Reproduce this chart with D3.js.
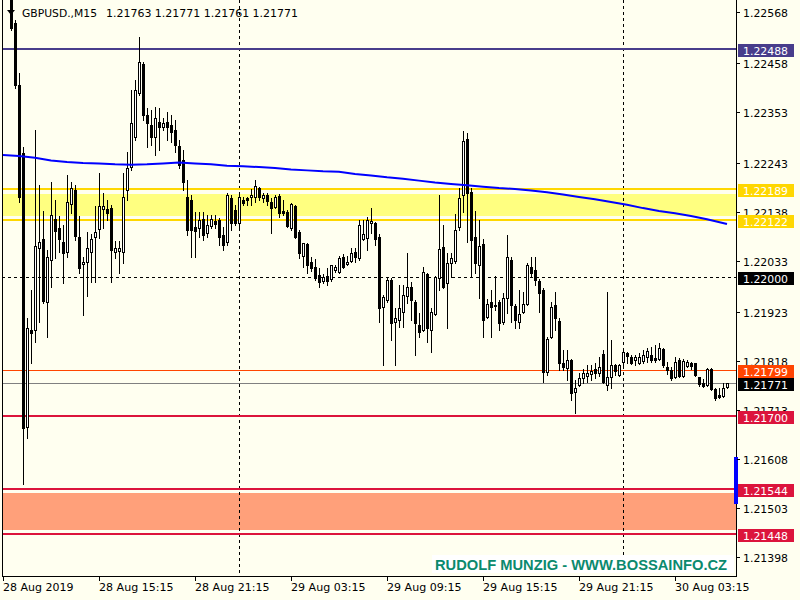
<!DOCTYPE html>
<html><head><meta charset="utf-8">
<script src="https://cdn.jsdelivr.net/npm/d3@7"></script>
<style>
body{margin:0;background:#FFFFF0}
svg{display:block}
text{font-family:"DejaVu Sans";font-size:11px;fill:#000}
</style></head>
<body><svg id="c" width="800" height="600"></svg>
<script>
// ---- DATA (GBPUSD M15, 28 Aug 2019 09:15 ...) ----
const symbolTitle = "GBPUSD.,M15";
const lastOHLC = "1.21763 1.21771 1.21761 1.21771";
const open = [
1.22700,1.22660,1.22625,1.22545,1.22411,1.22266,1.21677,1.21885,1.21885,1.22062,
1.22081,1.21946,1.22036,1.22124,1.22105,1.22075,1.22053,1.22156,1.22186,1.22085,
1.22027,1.22032,1.22053,1.22085,1.22103,1.22146,1.22146,1.22148,1.22053,1.22055,
1.22053,1.22186,1.22235,1.22300,1.22395,1.22456,1.22347,1.22325,1.22300,1.22332,
1.22321,1.22332,1.22325,1.22315,1.22280,1.22250,1.22171,1.22165,1.22107,1.22105,
1.22124,1.22094,1.22109,1.22120,1.22122,1.22089,1.22075,1.22169,1.22143,1.22116,
1.22165,1.22169,1.22171,1.22171,1.22191,1.22169,1.22175,1.22161,1.22150,1.22173,
1.22141,1.22139,1.22105,1.22152,1.22096,1.22044,1.22070,1.22032,1.22021,1.22003,
1.21991,1.22001,1.21995,1.22014,1.22010,1.22042,1.22027,1.22034,1.22053,1.22040,
1.22081,1.22083,1.22116,1.22116,1.22085,1.21935,1.21950,1.21993,1.21903,1.21907,
1.21924,1.21958,1.21978,1.21946,1.21896,1.21885,1.22005,1.21885,1.21920,1.21997,
1.22064,1.21987,1.22030,1.22034,1.22107,1.22175,1.22296,1.22182,1.22085,1.22025,
1.22070,1.21913,1.21946,1.21937,1.21946,1.21903,1.21954,1.22036,1.21937,1.21903,
1.21924,1.21941,1.22021,1.22014,1.21991,1.21971,1.21796,1.21870,1.21939,1.21905,
1.21815,1.21804,1.21821,1.21753,1.21767,1.21783,1.21787,1.21791,1.21802,1.21794,
1.21834,1.21767,1.21785,1.21810,1.21789,1.21817,1.21837,1.21828,1.21821,1.21815,
1.21819,1.21828,1.21832,1.21826,1.21823,1.21845,1.21806,1.21800,1.21785,1.21821,
1.21787,1.21808,1.21815,1.21815,1.21785,1.21772,1.21767,1.21802,1.21759,1.21746,
1.21744,1.21763];
const high = [
1.22720,1.22690,1.22640,1.22551,1.22438,1.22278,1.21911,1.21971,1.22315,1.22197,
1.22141,1.22057,1.22204,1.22165,1.22130,1.22111,1.22218,1.22204,1.22197,1.22130,
1.22042,1.22096,1.22091,1.22152,1.22223,1.22180,1.22165,1.22154,1.22077,1.22077,
1.22223,1.22268,1.22401,1.22422,1.22515,1.22461,1.22362,1.22358,1.22364,1.22362,
1.22341,1.22354,1.22347,1.22336,1.22293,1.22272,1.22208,1.22175,1.22139,1.22139,
1.22139,1.22132,1.22132,1.22132,1.22126,1.22107,1.22180,1.22175,1.22154,1.22175,
1.22171,1.22171,1.22189,1.22208,1.22193,1.22180,1.22180,1.22169,1.22175,1.22178,
1.22165,1.22143,1.22159,1.22154,1.22100,1.22073,1.22073,1.22042,1.22038,1.22019,
1.22005,1.22019,1.22025,1.22025,1.22044,1.22049,1.22044,1.22062,1.22062,1.22122,
1.22122,1.22128,1.22148,1.22118,1.22091,1.21960,1.21999,1.21997,1.21933,1.21982,
1.21982,1.22051,1.21989,1.21950,1.21922,1.22021,1.22008,1.21933,1.22001,1.22175,
1.22111,1.22051,1.22051,1.22134,1.22191,1.22313,1.22309,1.22191,1.22141,1.22122,
1.22081,1.21952,1.21971,1.22001,1.21950,1.21965,1.22089,1.22042,1.21941,1.21971,
1.21967,1.22030,1.22042,1.22042,1.21995,1.21976,1.21870,1.21946,1.21967,1.21911,
1.21843,1.21843,1.21823,1.21778,1.21794,1.21802,1.21810,1.21810,1.21815,1.21828,
1.21843,1.21967,1.21864,1.21813,1.21813,1.21843,1.21839,1.21832,1.21832,1.21837,
1.21843,1.21847,1.21849,1.21853,1.21858,1.21847,1.21817,1.21806,1.21828,1.21826,
1.21823,1.21821,1.21817,1.21815,1.21785,1.21781,1.21804,1.21804,1.21761,1.21761,
1.21772,1.21771];
const low = [
1.22650,1.22610,1.22530,1.22405,1.22161,1.21554,1.21654,1.21815,1.21860,1.21903,
1.21944,1.21870,1.21978,1.22040,1.22053,1.21987,1.22042,1.22137,1.22079,1.22008,
1.21917,1.21958,1.21989,1.21989,1.22083,1.22105,1.22122,1.21989,1.22040,1.22008,
1.22030,1.22165,1.22229,1.22293,1.22390,1.22336,1.22278,1.22282,1.22261,1.22272,
1.22315,1.22293,1.22289,1.22268,1.22233,1.22186,1.22089,1.22042,1.22042,1.22085,
1.22079,1.22085,1.22105,1.22105,1.22068,1.22057,1.22068,1.22100,1.22111,1.22107,
1.22154,1.22154,1.22154,1.22161,1.22165,1.22161,1.22154,1.22094,1.22148,1.22128,
1.22132,1.22107,1.22100,1.22083,1.22040,1.22021,1.22008,1.22012,1.21993,1.21978,
1.21987,1.21982,1.21991,1.22010,1.22008,1.22019,1.22025,1.22032,1.22032,1.22036,
1.22079,1.22057,1.22094,1.22068,1.21903,1.21810,1.21946,1.21864,1.21810,1.21892,
1.21892,1.21944,1.21907,1.21832,1.21870,1.21883,1.21860,1.21839,1.21917,1.21971,
1.21976,1.21890,1.21999,1.22030,1.22100,1.22139,1.22075,1.21999,1.22008,1.21954,
1.21870,1.21911,1.21870,1.21928,1.21885,1.21898,1.21922,1.21903,1.21890,1.21890,
1.21922,1.21939,1.21999,1.21982,1.21924,1.21774,1.21789,1.21868,1.21885,1.21800,
1.21800,1.21778,1.21735,1.21708,1.21765,1.21772,1.21774,1.21778,1.21783,1.21787,
1.21772,1.21757,1.21761,1.21789,1.21787,1.21810,1.21815,1.21813,1.21810,1.21813,
1.21815,1.21817,1.21817,1.21817,1.21821,1.21806,1.21791,1.21778,1.21783,1.21785,
1.21785,1.21806,1.21802,1.21787,1.21765,1.21763,1.21765,1.21757,1.21735,1.21739,
1.21742,1.21761];
const close = [
1.22660,1.22625,1.22534,1.22411,1.22171,1.21675,1.21890,1.21879,1.22066,1.22075,
1.21948,1.22042,1.22132,1.22098,1.22081,1.22051,1.22161,1.22191,1.22087,1.22019,
1.22032,1.22062,1.22081,1.22096,1.22152,1.22152,1.22137,1.22057,1.22062,1.22062,
1.22171,1.22233,1.22330,1.22401,1.22461,1.22347,1.22330,1.22300,1.22341,1.22321,
1.22330,1.22321,1.22311,1.22282,1.22239,1.22202,1.22100,1.22100,1.22098,1.22122,
1.22089,1.22111,1.22124,1.22113,1.22085,1.22068,1.22175,1.22116,1.22116,1.22171,
1.22159,1.22165,1.22175,1.22195,1.22171,1.22175,1.22163,1.22148,1.22171,1.22137,
1.22137,1.22109,1.22156,1.22085,1.22051,1.22073,1.22025,1.22019,1.21997,1.21989,
1.21999,1.21991,1.22025,1.22021,1.22040,1.22021,1.22032,1.22051,1.22042,1.22111,
1.22091,1.22122,1.22120,1.22081,1.21933,1.21956,1.21993,1.21901,1.21911,1.21933,
1.21960,1.21978,1.21950,1.21901,1.21881,1.22010,1.21890,1.21924,1.21999,1.22060,
1.21978,1.22030,1.22040,1.22100,1.22169,1.22291,1.22180,1.22079,1.22030,1.22066,
1.21907,1.21941,1.21935,1.21939,1.21901,1.21954,1.22042,1.21939,1.21907,1.21920,
1.21941,1.22025,1.22008,1.21993,1.21965,1.21796,1.21866,1.21935,1.21911,1.21815,
1.21806,1.21821,1.21751,1.21761,1.21783,1.21794,1.21794,1.21798,1.21794,1.21806,
1.21774,1.21785,1.21810,1.21798,1.21810,1.21839,1.21830,1.21815,1.21828,1.21828,
1.21832,1.21841,1.21821,1.21821,1.21847,1.21810,1.21800,1.21783,1.21817,1.21787,
1.21819,1.21817,1.21808,1.21789,1.21770,1.21765,1.21802,1.21759,1.21739,1.21742,
1.21761,1.21771];

// moving average (bar index, value)
const maBar = [0,4,8,12,16,20,24,28,32,36,40,44,48,52,56,60,64,68,72,76,80,84,88,92,96,100,104,108,112,116,120,124,128,132,136,140,144,148,152,156,160,164,168,172,176,181];
const maVal = [1.22261,1.22259,1.22255,1.22249,1.22246,1.22244,1.22243,1.22241,1.22240,1.22241,1.22243,1.22245,1.22243,1.22241,1.22238,1.22237,1.22235,1.22233,1.22230,1.22228,1.22226,1.22225,1.22220,1.22217,1.22213,1.22210,1.22206,1.22202,1.22199,1.22196,1.22193,1.22190,1.22188,1.22185,1.22181,1.22176,1.22171,1.22166,1.22160,1.22154,1.22147,1.22141,1.22136,1.22130,1.22123,1.22113];

const priceTicks = [1.22568,1.22458,1.22353,1.22243,1.22138,1.22033,1.21923,1.21818,1.21713,1.21608,1.21503,1.21398];
const timeLabels = ["28 Aug 2019","28 Aug 15:15","28 Aug 21:15","29 Aug 03:15","29 Aug 09:15","29 Aug 15:15","29 Aug 21:15","30 Aug 03:15"];
const timeLabelBars = [0,24,48,72,96,120,144,168];
const separatorBars = [59,155];

const resistanceLevel = 1.22488;
const yellowZone = [1.22189,1.22122];
const yellowFill = [1.22177,1.22130];
const roundLevel = 1.22000;
const orangeLevel = 1.21799;
const bidLevel = 1.21771;
const redLevel = 1.21700;
const salmonZone = [1.21544,1.21448];
const salmonFill = [1.21536,1.21456];
const spreadBar = [1.21613,1.21512];
const watermark = "RUDOLF MUNZIG - WWW.BOSSAINFO.CZ";

// ---- DRAW ----
const svg = d3.select("#c");
const L = 2, R = 736, B = 576;
const y = d3.scaleLinear().domain([1.21398,1.22568]).range([557,12]);
const x = d3.scaleLinear().domain([0, open.length-1]).range([3,727]);

svg.append("rect").attr("width",800).attr("height",600).attr("fill","#FFFFF0");
svg.append("defs").append("clipPath").attr("id","plot")
  .append("rect").attr("x",L+1).attr("y",0).attr("width",R-L-1).attr("height",B);

const plot = svg.append("g").attr("clip-path","url(#plot)").attr("shape-rendering","crispEdges");

// zone fills
const fillRect = (a,b,col)=> plot.append("rect").attr("x",L).attr("width",R-L)
   .attr("y",Math.round(y(a))).attr("height",Math.round(y(b))-Math.round(y(a))).attr("fill",col);
fillRect(yellowFill[0],yellowFill[1],"#FFFF80");
fillRect(salmonFill[0],salmonFill[1],"#FFA07A");

// separators
separatorBars.forEach(b=>{
  const xx = Math.round(x(b))+0.5;
  plot.append("line").attr("x1",xx).attr("x2",xx).attr("y1",0).attr("y2",B)
    .attr("stroke","#000").attr("stroke-dasharray","3,3");
});
// horizontal lines
const hline=(p,col,w,dash)=>{
  let yy = Math.round(y(p)); if(w%2===1) yy+=0.5;
  const l = plot.append("line").attr("x1",L).attr("x2",R).attr("y1",yy).attr("y2",yy)
    .attr("stroke",col).attr("stroke-width",w);
  if(dash) l.attr("stroke-dasharray",dash);
};
hline(roundLevel,"#000",1,"3,3");
hline(resistanceLevel,"#483D8B",2);
yellowZone.forEach(p=>hline(p,"#FFD700",2));
hline(orangeLevel,"#FF4500",1);
hline(bidLevel,"#808080",1);
hline(redLevel,"#DC143C",2);
salmonZone.forEach(p=>hline(p,"#DC143C",2));

// candles
const idx = d3.range(open.length);
const cg = plot.append("g");
idx.forEach(i=>{
  const cx = Math.round(x(i));
  const yh = Math.round(y(high[i])), yl = Math.round(y(low[i]));
  const yo = Math.round(y(open[i])), yc = Math.round(y(close[i]));
  cg.append("line").attr("x1",cx+0.5).attr("x2",cx+0.5).attr("y1",yh).attr("y2",yl+1)
    .attr("stroke","#000").attr("stroke-width",1);
  const top = Math.min(yo,yc), bot = Math.max(yo,yc);
  if(close[i] < open[i]){
    cg.append("rect").attr("x",cx-1).attr("y",top).attr("width",3).attr("height",Math.max(1,bot-top+1)).attr("fill","#000");
  } else {
    cg.append("rect").attr("x",cx-0.5).attr("y",top+0.5).attr("width",2).attr("height",Math.max(0,bot-top))
      .attr("fill","#fff").attr("stroke","#000").attr("stroke-width",1);
  }
});

// moving average
const ma = d3.line().x((d,i)=>x(maBar[i])).y(d=>y(d));
plot.append("path").datum(maVal).attr("d",ma).attr("fill","none").attr("stroke","#0000FF").attr("stroke-width",2)
  .attr("shape-rendering","auto");

// watermark
svg.append("rect").attr("x",432).attr("y",555).attr("width",302).attr("height",18).attr("fill","#fff");
svg.append("text").attr("x",435).attr("y",569.5).text(watermark)
  .style("font-family","'Liberation Sans'").style("font-weight","bold").style("font-size","14.7px").style("fill","#0B8A6E");

// frame
const fr = svg.append("g").attr("shape-rendering","crispEdges");
fr.append("line").attr("x1",L+0.5).attr("x2",L+0.5).attr("y1",0).attr("y2",B+1).attr("stroke","#000");
fr.append("line").attr("x1",R+0.5).attr("x2",R+0.5).attr("y1",0).attr("y2",B+1).attr("stroke","#000");
fr.append("line").attr("x1",L).attr("x2",R+1).attr("y1",B+0.5).attr("y2",B+0.5).attr("stroke","#000");

// spread bar
fr.append("rect").attr("x",734).attr("width",4).attr("y",Math.round(y(spreadBar[0])))
  .attr("height",Math.round(y(spreadBar[1]))-Math.round(y(spreadBar[0]))).attr("fill","#0000FF");

// price axis
priceTicks.forEach(p=>{
  const yy = Math.round(y(p));
  fr.append("line").attr("x1",737).attr("x2",740).attr("y1",yy+0.5).attr("y2",yy+0.5).attr("stroke","#000");
  svg.append("text").attr("x",743).attr("y",yy+4.5).attr("textLength",45).attr("lengthAdjust","spacingAndGlyphs").text(p.toFixed(5));
});
// time axis
timeLabelBars.forEach((b,i)=>{
  const xx = Math.round(x(b));
  fr.append("line").attr("x1",xx+0.5).attr("x2",xx+0.5).attr("y1",577).attr("y2",581).attr("stroke","#000");
  svg.append("text").attr("x",xx).attr("y",590.5).attr("textLength", i===0 ? 70.5 : 74.5)
    .attr("lengthAdjust","spacingAndGlyphs").text(timeLabels[i]);
});

// price boxes
const box=(p,col)=>{
  const yy = Math.round(y(p));
  svg.append("rect").attr("x",738).attr("y",yy-5).attr("width",56).attr("height",13).attr("fill",col).attr("shape-rendering","crispEdges");
  svg.append("text").attr("x",743).attr("y",yy+5.5).attr("textLength",45).attr("lengthAdjust","spacingAndGlyphs")
    .text(p.toFixed(5)).style("fill","#fff");
};
box(resistanceLevel,"#483D8B");
yellowZone.forEach(p=>box(p,"#FFD700"));
box(roundLevel,"#000");
box(orangeLevel,"#FF4500");
box(bidLevel,"#000");
box(redLevel,"#DC143C");
salmonZone.forEach(p=>box(p,"#DC143C"));

// header
svg.append("path").attr("d","M7,10 L15,10 L11,15 Z").attr("fill","#000");
svg.append("text").attr("x",22).attr("y",17).attr("textLength",75).attr("lengthAdjust","spacingAndGlyphs").text(symbolTitle);
svg.append("text").attr("x",106).attr("y",17).attr("textLength",192).attr("lengthAdjust","spacingAndGlyphs").text(lastOHLC);
</script></body></html>
